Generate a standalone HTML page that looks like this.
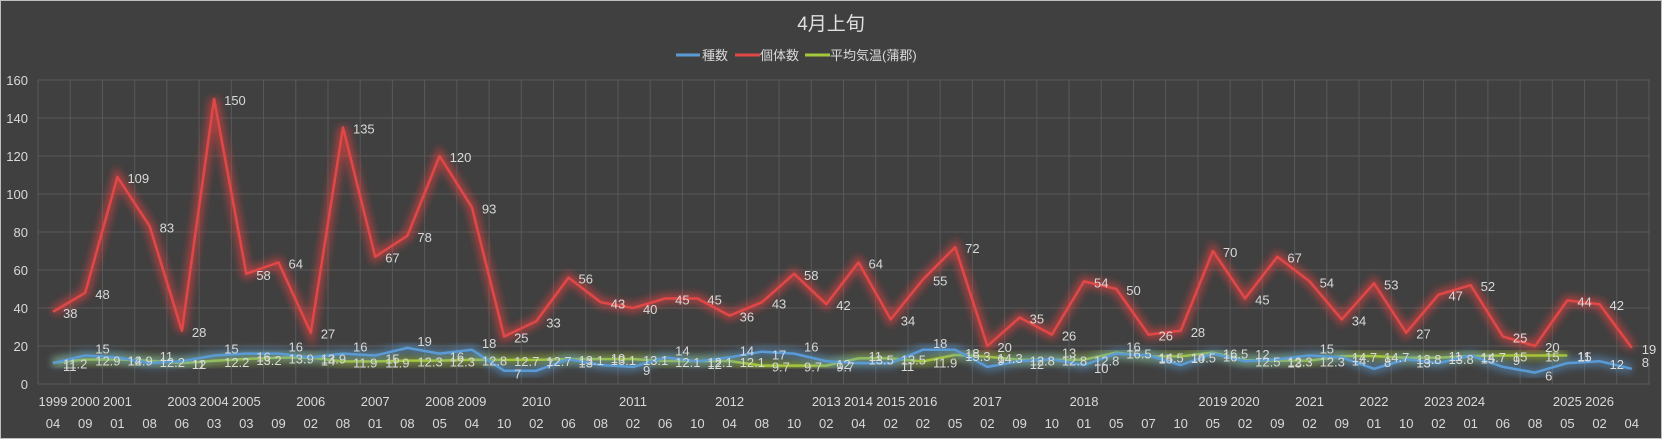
<!DOCTYPE html>
<html><head><meta charset="utf-8"><style>
html,body{margin:0;padding:0;background:#404040;}
svg{display:block;font-family:"Liberation Sans","Noto Sans CJK JP",sans-serif;}
</style></head><body>
<svg id="c" width="1662" height="439" xmlns="http://www.w3.org/2000/svg">
<defs>
<filter id="g" x="-5%" y="-20%" width="110%" height="140%"><feGaussianBlur stdDeviation="4"/></filter>
</defs>
<rect x="0.5" y="0.5" width="1661" height="438" fill="#404040" stroke="#bfbfbf"/>
<text x="831" y="30" fill="#e0e0e0" font-size="19" text-anchor="middle">4月上旬</text>
<line x1="676" y1="55" x2="700" y2="55" stroke="#5b9bd5" stroke-width="3"/>
<text x="702" y="60" fill="#d9d9d9" font-size="13">種数</text>
<line x1="735" y1="55" x2="760" y2="55" stroke="#e04848" stroke-width="3"/>
<text x="760" y="60" fill="#d9d9d9" font-size="13">個体数</text>
<line x1="805" y1="55" x2="830" y2="55" stroke="#a5c83a" stroke-width="3"/>
<text x="830" y="60" fill="#d9d9d9" font-size="13">平均気温(蒲郡)</text>
<g id="grid"></g>
<g id="series"></g>
<g id="labels"></g>
</svg>
<script>
const NS="http://www.w3.org/2000/svg";
function el(p,t,a,txt){const e=document.createElementNS(NS,t);for(const k in a)e.setAttribute(k,a[k]);if(txt!==undefined)e.textContent=txt;p.appendChild(e);return e;}
const X0=53,DX=32.22,Y0=384,SY=1.9,L=38,R=1650;
const X=i=>X0+i*DX, Y=v=>Y0-v*SY;
const grid=document.getElementById('grid');
for(let v=0;v<=160;v+=20){el(grid,'line',{x1:L,x2:R,y1:Y(v),y2:Y(v),stroke:'#595959','stroke-width':1});
 el(grid,'text',{x:28,y:Y(v)+5,fill:'#d9d9d9','font-size':13,'text-anchor':'end'},v);}
for(let i=0;i<=50;i++){const x=L+i*DX;el(grid,'line',{x1:x,x2:x,y1:Y(160),y2:Y(0),stroke:'#595959','stroke-width':1});}
const months="04 09 01 08 06 03 03 09 02 08 01 08 05 04 10 02 06 08 02 06 10 04 08 10 02 04 02 02 05 02 09 10 01 05 07 10 05 02 09 02 09 01 10 02 01 06 08 05 02 04".split(' ');
const years={0:1999,1:2000,2:2001,4:2003,5:2004,6:2005,8:2006,10:2007,12:2008,13:2009,15:2010,18:2011,21:2012,24:2013,25:2014,26:2015,27:2016,29:2017,32:2018,36:2019,37:2020,39:2021,41:2022,43:2023,44:2024,47:2025,48:2026};
months.forEach((m,i)=>{el(grid,'text',{x:X(i),y:428,fill:'#d9d9d9','font-size':13,'text-anchor':'middle'},m);
 if(years[i])el(grid,'text',{x:X(i),y:406,fill:'#d9d9d9','font-size':13,'text-anchor':'middle'},years[i]);});
const red=[38,48,109,83,28,150,58,64,27,135,67,78,120,93,25,33,56,43,40,45,45,36,43,58,42,64,34,55,72,20,35,26,54,50,26,28,70,45,67,54,34,53,27,47,52,25,20,44,42,19];
const blue=[11,15,14,11,12,15,16,16,14,16,15,19,16,18,7,7,13,10,9,14,12,14,17,16,12,11,11,18,18,9,12,13,10,16,15,10,16,12,13,15,14,8,13,11,15,9,6,11,12,8];
const green=[11.2,12.9,12.9,12.2,11,12.2,13.2,13.9,13.9,11.9,11.9,12.3,12.3,12.8,12.7,12.7,13.1,13.1,13.1,12.1,12.1,12.1,9.7,9.7,9.7,13.5,13.5,11.9,15.3,14.3,12.8,12.8,12.8,16.5,14.5,14.5,16.5,12.5,12.3,12.3,14.7,14.7,13.8,13.8,14.7,15,15,15];
const S=document.getElementById('series'),LB=document.getElementById('labels');
function draw(d,col,glow){const pts=d.map((v,i)=>X(i).toFixed(1)+','+Y(v).toFixed(1)).join(' ');
 el(S,'polyline',{points:pts,fill:'none',stroke:glow,'stroke-width':9,'stroke-opacity':0.55,filter:'url(#g)'});
 el(S,'polyline',{points:pts,fill:'none',stroke:col,'stroke-width':2.5,'stroke-linejoin':'round'});}
draw(green,'#a5c83a','#a5c83a');
draw(blue,'#5b9bd5','#5b9bd5');
draw(red,'#e04848','#ff4040');
red.forEach((v,i)=>el(LB,'text',{x:X(i)+10,y:Y(v)+6,fill:'#d9d9d9','font-size':13},v));
blue.forEach((v,i)=>el(LB,'text',{x:X(i)+10,y:Y(v)+ (i%2?-2:8),fill:'#d9d9d9','font-size':13},v));
green.forEach((v,i)=>el(LB,'text',{x:X(i)+10,y:Y(v)+6,fill:'#d9d9d9','font-size':13},v));
</script>
</body></html>
